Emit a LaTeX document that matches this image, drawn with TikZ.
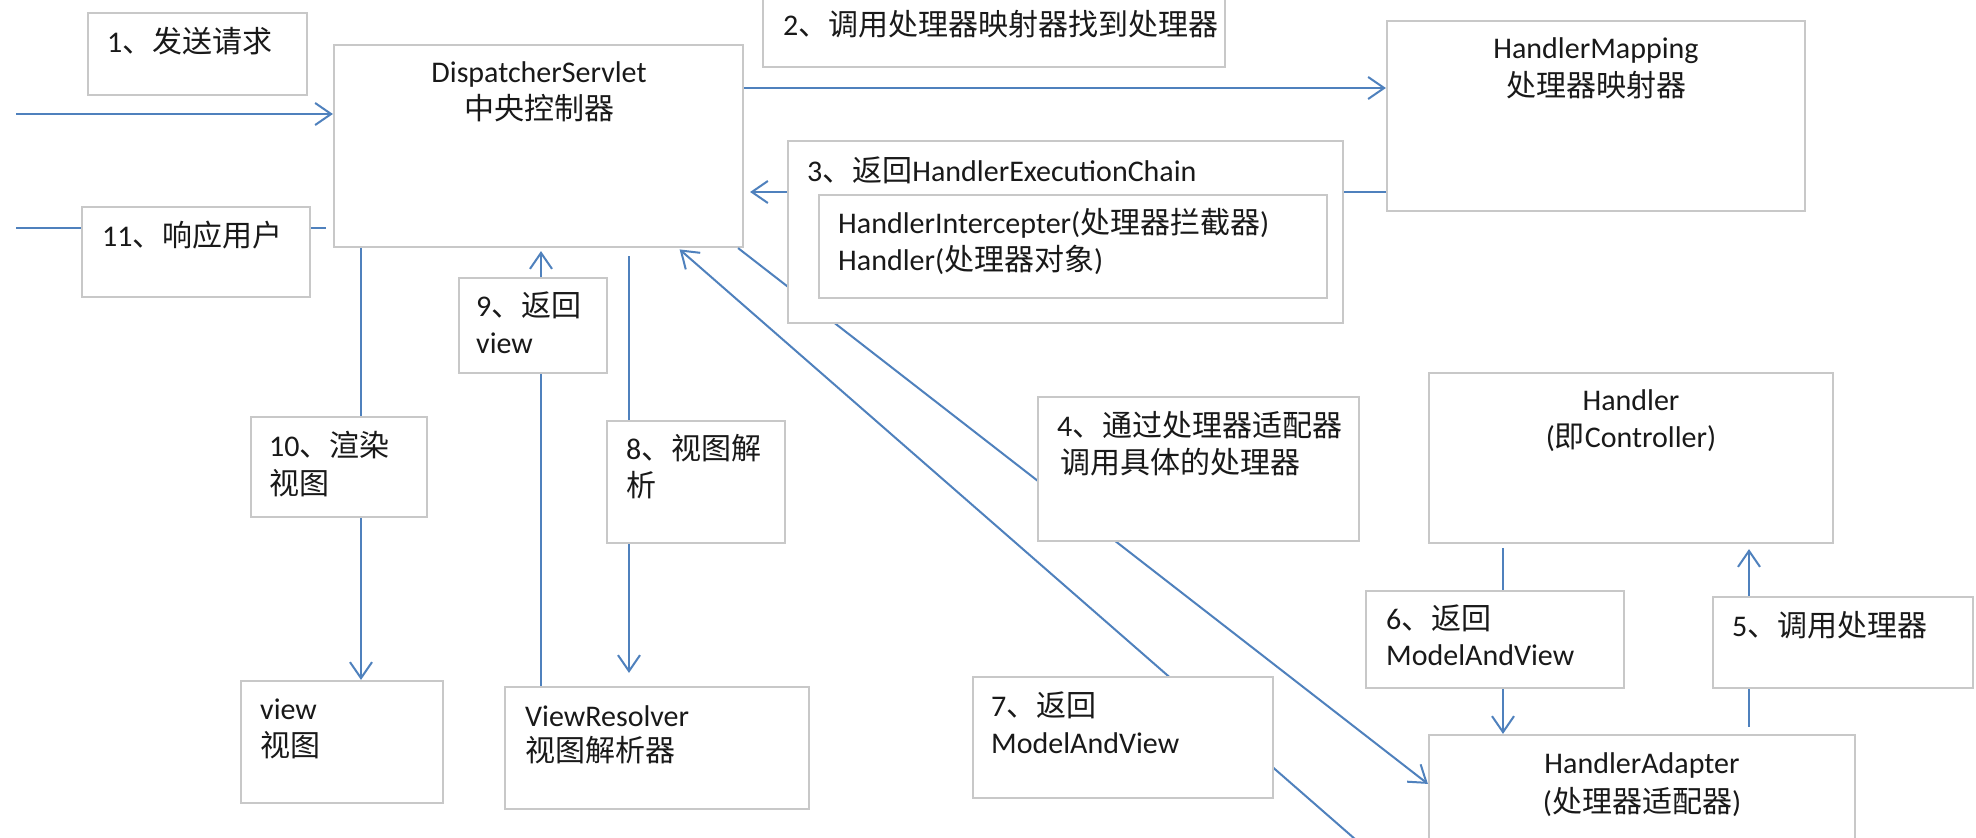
\documentclass[tikz,border=0pt]{standalone}
\usepackage{fontspec}
\setmainfont{Carlito}
\newfontfamily\cjk{Noto Sans CJK SC}
\usetikzlibrary{arrows.meta,fit}
\definecolor{lineblue}{RGB}{79,129,189}
\definecolor{boxgray}{RGB}{200,200,200}
\newcommand\dfs{\fontsize{30}{36}\selectfont}
\begin{document}
\begin{tikzpicture}[x=1pt,y=-1pt,
  box/.style={draw=boxgray, line width=2.2pt, fill=white, inner sep=0pt},
  conn/.style={draw=lineblue, line width=2pt},
  arr/.style={conn, -{Straight Barb[length=16pt,width=22pt,line width=2pt]}},
  lbl/.style={inner sep=0pt, anchor=base west, font=\dfs, text=black!90},
  ctr/.style={inner sep=0pt, anchor=base, font=\dfs, text=black!90}]
\path[use as bounding box] (0,0) rectangle (1976,838);
\clip (0,0) rectangle (1976,838);
\fill[white] (0,0) rectangle (1976,838);

% main boxes
\node[box, fit={(334,45) (743,247)}] (ds) {};
\node[box, fit={(1387,21) (1805,211)}] (hm) {};
\node[box, fit={(241,681) (443,803)}] (view) {};
\node[box, fit={(505,687) (809,809)}] (vr) {};
\node[box, fit={(1429,373) (1833,543)}] (handler) {};
\node[box, fit={(1429,735) (1855,900)}] (ha) {};

% helper coordinates (free ends / line positions)
\coordinate (c1) at (16,114);
\coordinate (c11) at (16,228);
\coordinate (c2) at (0,88);
\coordinate (c3) at (0,192);
\coordinate (c7) at (1450,922);
\coordinate (c10) at (361,0);
\coordinate (c9) at (541,0);
\coordinate (c8) at (629,256);
\coordinate (c6) at (1503,548);
\coordinate (c5) at (1749,0);

% connectors
\draw[arr] (c1) -- (c1 -| ds.west);
\draw[conn, shorten <=7pt] (c11 -| ds.west) -- (c11);
\draw[arr] (c2 -| ds.east) -- (c2 -| hm.west);
\draw[arr, shorten >=6pt] (c3 -| hm.west) -- (c3 -| ds.east);
\draw[arr] ([xshift=-6pt]ds.south east) -- ([yshift=-50pt]ha.north west);
\draw[arr, shorten >=2pt] (c7) -- ([xshift=-66pt]ds.south east);
\draw[arr] (c10 |- ds.south) -- (c10 |- view.north);
\draw[arr, shorten >=3pt] (c9 |- vr.north) -- (c9 |- ds.south);
\draw[arr, shorten >=13pt] (c8) -- (c8 |- vr.north);
\draw[arr] (c6) -- (c6 |- ha.north);
\draw[arr, shorten <=7pt, shorten >=5pt] (c5 |- ha.north) -- (c5 |- handler.south);

% label boxes
\node[box, fit={(88,13) (307,95)}] (b1) {};
\node[box, fit={(82,207) (310,297)}] (b11) {};
\node[box, fit={(763,-5) (1225,67)}] (b2) {};
\node[box, fit={(788,141) (1343,323)}] (b3) {};
\node[box, fit={(819,195) (1327,298)}] (b3i) {};
\node[box, fit={(459,278) (607,373)}] (b9) {};
\node[box, fit={(251,417) (427,517)}] (b10) {};
\node[box, fit={(607,421) (785,543)}] (b8) {};
\node[box, fit={(1038,397) (1359,541)}] (b4) {};
\node[box, fit={(973,677) (1273,798)}] (b7) {};
\node[box, fit={(1366,591) (1624,688)}] (b6) {};
\node[box, fit={(1713,597) (1973,688)}] (b5) {};

% texts
\node[lbl] (t1) at (107,52) {1{\cjk 、发送请求}};
\node[ctr] (tds1) at (539,82) {DispatcherServlet};
\node[ctr] (tds2) at (539,119) {\cjk 中央控制器};
\node[lbl] (t11) at (102,246) {11{\cjk 、响应用户}};
\node[lbl] (t2) at (783,35) {2{\cjk 、调用处理器映射器找到处理器}};
\node[ctr] (thm1) at (1596,58) {HandlerMapping};
\node[ctr] (thm2) at (1596,96) {\cjk 处理器映射器};
\node[lbl] (t3) at (807,181) {3{\cjk 、返回}HandlerExecutionChain};
\node[lbl] (t3a) at (838,233) {HandlerIntercepter({\cjk 处理器拦截器})};
\node[lbl] (t3b) at (838,270) {Handler({\cjk 处理器对象})};
\node[lbl] (t9a) at (476,316) {9{\cjk 、返回}};
\node[lbl] (t9b) at (476,353) {view};
\node[lbl] (t10a) at (269,456) {10{\cjk 、渲染}};
\node[lbl] (t10b) at (269,494) {\cjk 视图};
\node[lbl] (t8a) at (626,459) {8{\cjk 、视图解}};
\node[lbl] (t8b) at (626,496) {\cjk 析};
\node[lbl] (tv1) at (260,719) {view};
\node[lbl] (tv2) at (260,756) {\cjk 视图};
\node[lbl] (tvr1) at (525,726) {ViewResolver};
\node[lbl] (tvr2) at (525,761) {\cjk 视图解析器};
\node[lbl] (t4a) at (1057,436) {4{\cjk 、通过处理器适配器}};
\node[lbl] (t4b) at (1060,473) {\cjk 调用具体的处理器};
\node[lbl] (t7a) at (991,716) {7{\cjk 、返回}};
\node[lbl] (t7b) at (991,753) {ModelAndView};
\node[ctr] (th1) at (1631,410) {Handler};
\node[ctr] (th2) at (1631,447) {({\cjk 即}Controller)};
\node[lbl] (t6a) at (1386,629) {6{\cjk 、返回}};
\node[lbl] (t6b) at (1386,665) {ModelAndView};
\node[lbl] (t5) at (1732,636) {5{\cjk 、调用处理器}};
\node[ctr] (tha1) at (1642,773) {HandlerAdapter};
\node[ctr] (tha2) at (1642,812) {({\cjk 处理器适配器})};
\end{tikzpicture}
\end{document}
